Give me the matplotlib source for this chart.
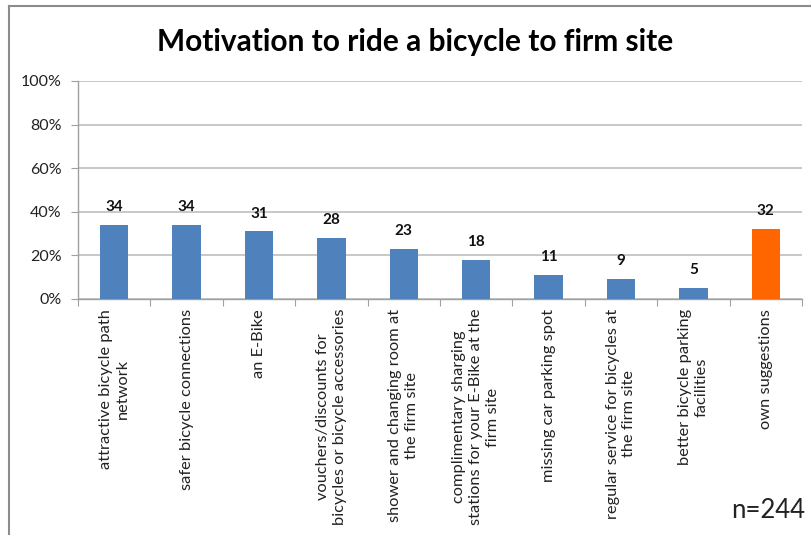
import numpy as np
import matplotlib.pyplot as plt
from matplotlib.lines import Line2D

plt.rcParams['font.family'] = ['Lato', 'DejaVu Sans']

categories = ['attractive bicycle path\nnetwork',
              'safer bicycle connections',
              'an E-Bike',
              'vouchers/discounts for\nbicycles or bicycle accessories',
              'shower and changing room at\nthe firm site',
              'complimentary sharging\nstations for your E-Bike at the\nfirm site',
              'missing car parking spot',
              'regular service for bicycles at\nthe firm site',
              'better bicycle parking\nfacilities',
              'own suggestions']
values = [34, 34, 31, 28, 23, 18, 11, 9, 5, 32]
bar_colors = ['#4F81BD'] * 9 + ['#FF6600']
yticks = [0, 20, 40, 60, 80, 100]

fig = plt.figure(figsize=(8.11, 5.35), dpi=100)
ax = fig.add_axes([78/811, 1 - 299/535, (802 - 78)/811, (299 - 81)/535])

x = np.arange(len(values))
ax.bar(x, values, width=0.39, color=bar_colors, zorder=3)
for xi, v in zip(x, values):
    ax.text(xi, v + 5, str(v), ha='center', va='bottom',
            fontsize=11, fontweight='bold', color='#111111')

ax.set_xlim(-0.5, len(values) - 0.5)
ax.set_ylim(0, 100)
ax.set_yticks(yticks)
ax.set_yticklabels([f'{t}%' for t in yticks], fontsize=11.5, color='#222222')
ax.yaxis.grid(True, color='#BFBFBF', linewidth=1.2, zorder=0)
ax.tick_params(axis='y', length=5, color='#A0A0A0', pad=7)

# category boundaries carry the tick marks
ax.set_xticks(np.arange(-0.5, len(values), 1.0))
ax.set_xticklabels([])
ax.tick_params(axis='x', length=5, color='#A0A0A0')
for xi, lab in zip(x, categories):
    ax.text(xi, -4.5, lab, rotation=90, ha='center', va='top',
            multialignment='center', fontsize=11.8, color='#222222',
            linespacing=1.25)

for side in ['top', 'right']:
    ax.spines[side].set_visible(False)
for side in ['left', 'bottom']:
    ax.spines[side].set_color('#A0A0A0')
    ax.spines[side].set_linewidth(1.0)

fig.text(0.512, 1 - 42/535, 'Motivation to ride a bicycle to firm site',
         ha='center', va='center', fontsize=21.5, fontweight='bold')
fig.text(0.993, 1 - 510/535, 'n=244', ha='right', va='center', fontsize=18.5,
         color='#222222')

# frame around the chart area
fig.add_artist(Line2D([9/811, 1.0], [1 - 6/535, 1 - 6/535],
                      color='#8C8C8C', linewidth=1.5))
fig.add_artist(Line2D([9/811, 9/811], [0, 1 - 6/535],
                      color='#8C8C8C', linewidth=1.5))

fig.savefig('out.png', dpi=100)
